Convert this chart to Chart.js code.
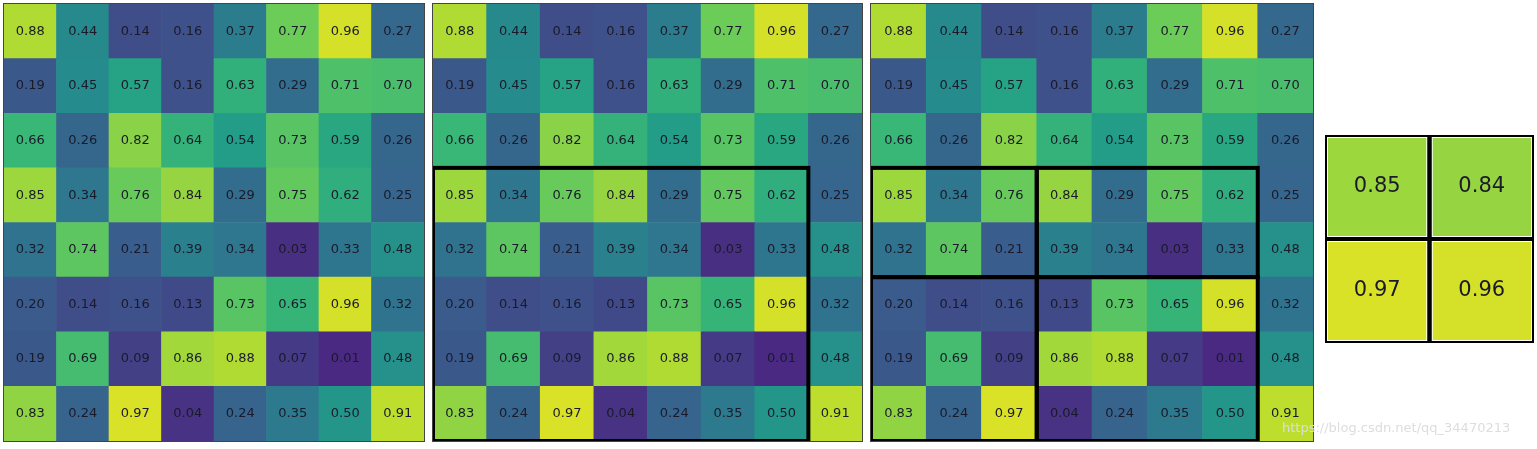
<!DOCTYPE html>
<html>
<head>
<meta charset="utf-8">
<script src="https://cdn.jsdelivr.net/npm/chart.js@4"></script>
<style>
body { margin:0; background:#fff; width:1537px; height:449px; position:relative; overflow:hidden; font-family:"DejaVu Sans"; }
.p { position:absolute; border:1px solid #444; box-sizing:border-box; }
canvas { display:block; }
#mark { position:absolute; left:1282px; top:420px; font:13px "DejaVu Sans"; color:#ddd; }
</style>
</head>
<body>
<div class="p" style="left:3px;top:3px;width:422px;height:439px"><canvas id="c1"></canvas></div>
<div class="p" style="left:432px;top:3px;width:431px;height:439px"><canvas id="c2"></canvas></div>
<div class="p" style="left:870px;top:3px;width:444px;height:439px"><canvas id="c3"></canvas></div>
<div class="p" style="left:1325px;top:135px;width:209px;height:208px;border:none"><canvas id="c4"></canvas></div>
<div id="mark">https://blog.csdn.net/qq_34470213</div>
<script>
// input feature map, row by row (top to bottom)
var grid = [
  [0.88, 0.44, 0.14, 0.16, 0.37, 0.77, 0.96, 0.27],
  [0.19, 0.45, 0.57, 0.16, 0.63, 0.29, 0.71, 0.70],
  [0.66, 0.26, 0.82, 0.64, 0.54, 0.73, 0.59, 0.26],
  [0.85, 0.34, 0.76, 0.84, 0.29, 0.75, 0.62, 0.25],
  [0.32, 0.74, 0.21, 0.39, 0.34, 0.03, 0.33, 0.48],
  [0.20, 0.14, 0.16, 0.13, 0.73, 0.65, 0.96, 0.32],
  [0.19, 0.69, 0.09, 0.86, 0.88, 0.07, 0.01, 0.48],
  [0.83, 0.24, 0.97, 0.04, 0.24, 0.35, 0.50, 0.91]
];
// pooled output 2x2
var pooled = [
  [0.85, 0.84],
  [0.97, 0.96]
];
// boxes [row0, col0, row1, col1] inclusive
var roiBox = [[3, 0, 7, 6]];
var splitBoxes = [[3, 0, 4, 2], [3, 3, 4, 6], [5, 0, 7, 2], [5, 3, 7, 6]];

// slightly washed-out viridis, like the scanned figure
var stops = [[74,38,128],[66,70,136],[56,96,140],[46,118,142],[38,138,140],[34,160,134],[58,184,118],[112,205,86],[180,220,48],[232,228,36]];
function viridis(v) {
  var t = Math.max(0, Math.min(1, v)) * (stops.length - 1);
  var i = Math.min(Math.floor(t), stops.length - 2), f = t - i;
  var c = stops[i].map(function (a, k) { return Math.round(a + (stops[i + 1][k] - a) * f); });
  return 'rgb(' + c.join(',') + ')';
}

function heatmap(id, m, boxes, fontSize, gap) {
  var n = m.length, cols = m[0].length;
  var labels = [];
  for (var c = 0; c < cols; c++) labels.push(String(c));
  var datasets = [];
  for (var r = n - 1; r >= 0; r--) {
    datasets.push({
      row: r,
      data: m[r].map(function () { return 1; }),
      backgroundColor: m[r].map(viridis),
      borderWidth: 0,
      barPercentage: 1, categoryPercentage: 1
    });
  }
  var cellPlugin = {
    id: 'cells',
    afterDatasetsDraw: function (chart) {
      var ctx = chart.ctx;
      var boundsOf = function (r, c) {
        var el = chart.getDatasetMeta(n - 1 - r).data[c];
        return { l: el.x - el.width / 2, rr: el.x + el.width / 2, t: el.y, b: el.base };
      };
      ctx.save();
      if (gap) {
        ctx.strokeStyle = '#fff'; ctx.lineWidth = gap;
        for (var r = 0; r < n; r++) for (var c = 0; c < cols; c++) {
          var q = boundsOf(r, c);
          ctx.strokeRect(q.l, q.t, q.rr - q.l, q.b - q.t);
        }
      }
      ctx.fillStyle = '#1a1a2a';
      ctx.font = fontSize + 'px "DejaVu Sans"';
      ctx.textAlign = 'center'; ctx.textBaseline = 'middle';
      for (var r2 = 0; r2 < n; r2++) for (var c2 = 0; c2 < cols; c2++) {
        var p = boundsOf(r2, c2);
        ctx.fillText(m[r2][c2].toFixed(2), (p.l + p.rr) / 2, (p.t + p.b) / 2);
      }
      ctx.strokeStyle = '#000'; ctx.lineWidth = 4;
      boxes.forEach(function (b) {
        var a = boundsOf(b[0], b[1]), z = boundsOf(b[2], b[3]);
        ctx.strokeRect(a.l, a.t, z.rr - a.l, z.b - a.t);
      });
      ctx.restore();
    }
  };
  new Chart(document.getElementById(id), {
    type: 'bar',
    data: { labels: labels, datasets: datasets },
    options: {
      responsive: true, maintainAspectRatio: false, animation: false,
      layout: { padding: 0 },
      plugins: { legend: { display: false }, tooltip: { enabled: false } },
      scales: {
        x: { stacked: true, display: false },
        y: { stacked: true, display: false, min: 0, max: n }
      }
    },
    plugins: [cellPlugin]
  });
}

heatmap('c1', grid, [], 13, 0);
heatmap('c2', grid, roiBox, 13, 0);
heatmap('c3', grid, splitBoxes, 13, 0);
heatmap('c4', pooled, [[0, 0, 0, 0], [0, 1, 0, 1], [1, 0, 1, 0], [1, 1, 1, 1]], 21, 6);
</script>
</body>
</html>
